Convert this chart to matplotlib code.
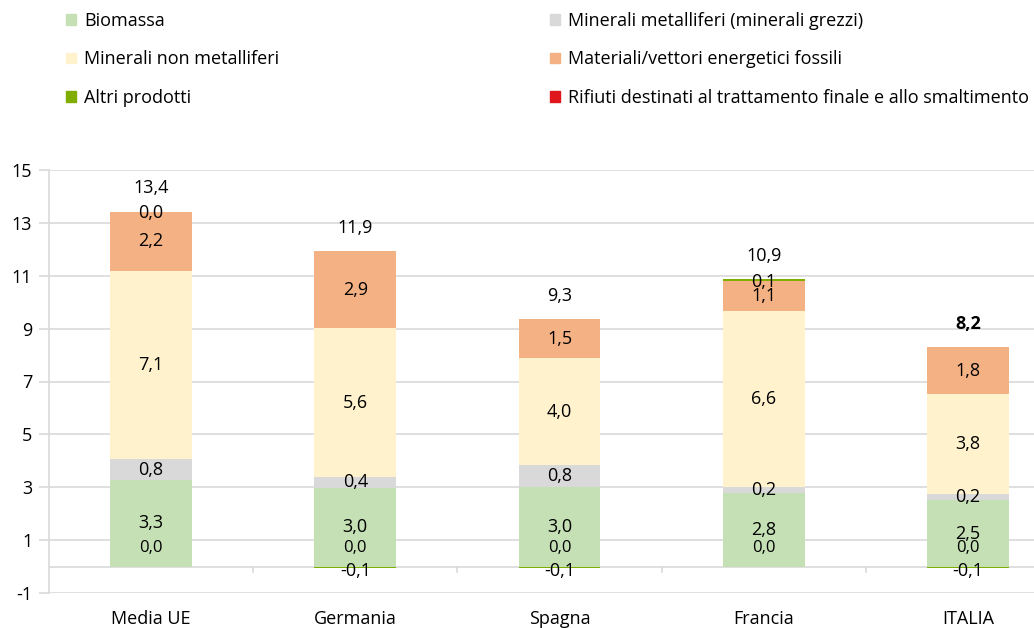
import matplotlib
matplotlib.use("Agg")
import matplotlib.pyplot as plt
from matplotlib.patches import Rectangle
import numpy as np

categories = ["Media UE", "Germania", "Spagna", "Francia", "ITALIA"]
biomassa = [3.27, 2.97, 3.02, 2.80, 2.50]
metalliferi = [0.80, 0.42, 0.82, 0.22, 0.24]
non_metalliferi = [7.12, 5.62, 4.03, 6.64, 3.77]
fossili = [2.22, 2.92, 1.48, 1.14, 1.78]
altri = [0.02, -0.06, -0.06, 0.07, -0.06]
rifiuti = [0.0, 0.0, 0.0, 0.0, 0.0]

series_names = ["Biomassa", "Minerali metalliferi (minerali grezzi)",
                "Minerali non metalliferi", "Materiali/vettori energetici fossili",
                "Altri prodotti", "Rifiuti destinati al trattamento finale e allo smaltimento"]
colors = {"bio": "#C5E0B4", "met": "#D9D9D9", "nonmet": "#FFF2CC",
          "fos": "#F4B183", "altri": "#7FAD00", "rif": "#E0161D"}

plt.rcParams['font.family'] = ['Open Sans', 'DejaVu Sans']
fig = plt.figure(figsize=(10.34, 6.28), dpi=100)
ax = fig.add_axes([49/1034, 1-593/628, 1021/1034, 423/628])

x = np.arange(len(categories))
w = 0.4
fs = 13

def fmt(v):
    return f"{v:.1f}".replace(".", ",")

pos_base = np.zeros(len(categories))
neg_base = np.zeros(len(categories))
stack = [(biomassa, colors["bio"]), (metalliferi, colors["met"]),
         (non_metalliferi, colors["nonmet"]), (fossili, colors["fos"]),
         (altri, colors["altri"])]
for vals, col in stack:
    vals = np.array(vals)
    bottoms = np.where(vals >= 0, pos_base, neg_base)
    ax.bar(x, vals, w, bottom=bottoms, color=col, zorder=3, linewidth=0)
    for i, v in enumerate(vals):
        yc = bottoms[i] + v / 2
        if col == colors["altri"]:
            yc = bottoms[i] + v - 0.1 if v < 0 else bottoms[i] - 0.05
        ax.text(x[i], yc, fmt(v), ha="center", va="center", fontsize=fs,
                color="#000000", zorder=5)
    pos_base = pos_base + np.where(vals >= 0, vals, 0)
    neg_base = neg_base + np.where(vals < 0, vals, 0)

# rifiuti (zero-valued) labels
ax.bar(x, rifiuti, w, color=colors["rif"], zorder=3, linewidth=0)
for i, v in enumerate(rifiuti):
    ax.text(x[i], v + 0.72, fmt(v), ha="center", va="center", fontsize=12, zorder=5)

totals = pos_base + neg_base
for i, t in enumerate(totals):
    ax.text(x[i], pos_base[i] + 0.88, fmt(t), ha="center", va="center", fontsize=fs,
            fontweight="bold" if categories[i] == "ITALIA" else "normal", zorder=5)

ax.set_xlim(-0.5, len(categories) - 0.5)
ax.set_ylim(-1, 15)
ax.set_yticks(np.arange(-1, 16, 2))
ax.set_yticklabels([str(t) for t in range(-1, 16, 2)], fontsize=fs)
ax.grid(axis="y", color="#D9D9D9", linewidth=1.2, zorder=0)
for s in ["top", "right", "bottom"]:
    ax.spines[s].set_visible(False)
ax.spines["left"].set_color("#D9D9D9")
ax.spines["left"].set_linewidth(1.2)
ax.tick_params(axis="y", length=7, color="#D9D9D9", width=1.2, pad=5)
ax.set_xticks(x)
ax.set_xticklabels(categories, fontsize=fs)
ax.tick_params(axis="x", length=0, pad=12)

# zero axis line with ticks between categories
ax.axhline(0, color="#D9D9D9", linewidth=1.2, zorder=2)
for b in np.arange(0.5, len(categories) - 0.5, 1.0):
    ax.plot([b, b], [0, -0.22], color="#D9D9D9", linewidth=1.2, zorder=2, clip_on=False)

# legend (two columns)
left_h = [Rectangle((0, 0), 1, 1, color=c) for c in
          [colors["bio"], colors["nonmet"], colors["altri"]]]
right_h = [Rectangle((0, 0), 1, 1, color=c) for c in
           [colors["met"], colors["fos"], colors["rif"]]]
common = dict(loc="upper left", frameon=False, fontsize=fs, handlelength=0.55,
              handleheight=0.55, handletextpad=0.45, labelspacing=1.13,
              borderaxespad=0, borderpad=0)
fig.legend(left_h, [series_names[0], series_names[2], series_names[4]],
           bbox_to_anchor=(66/1034, 1 - 12/628), **common)
fig.legend(right_h, [series_names[1], series_names[3], series_names[5]],
           bbox_to_anchor=(550/1034, 1 - 12/628), **common)

fig.savefig("out.png", dpi=100)
